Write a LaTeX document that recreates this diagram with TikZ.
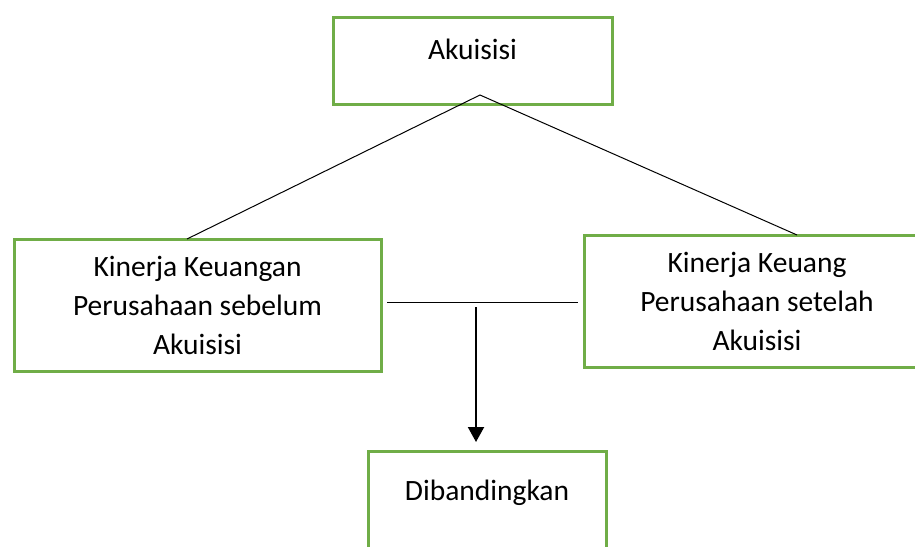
\documentclass[tikz,border=0pt]{standalone}
\usepackage{fontspec}
\setmainfont{Carlito}
\usetikzlibrary{arrows.meta}
\tikzset{
    kotak/.style={draw=hijau,line width=3pt,rectangle,inner sep=0pt,align=center,font=\fontsize{29.5}{39}\selectfont},
    judul/.style={font=\fontsize{29.5}{36}\selectfont,anchor=north},
    garis/.style={line width=1pt}
}
\definecolor{hijau}{HTML}{70AD47}
\begin{document}
\begin{tikzpicture}[x=1pt,y=-1pt]
    \clip (0,0) rectangle (915,546);
    \node[kotak,minimum width=279pt,minimum height=87pt,
        label={[judul,yshift=-20pt]north:Akuisisi}] (akuisisi) at (472.5,60.5) {};
    \node[kotak,minimum width=367pt,minimum height=132pt] (sebelum) at (197.5,305) {Kinerja Keuangan\\Perusahaan sebelum\\Akuisisi};
    \node[kotak,minimum width=346pt,minimum height=132pt] (setelah) at (757,301) {Kinerja Keuang\\Perusahaan setelah\\Akuisisi};
    \node[kotak,minimum width=238pt,minimum height=130pt,
        label={[judul,yshift=-27pt]north:Dibandingkan}] (banding) at (487,516) {};
    \coordinate (puncak) at (480,95);
    \coordinate (kaki kiri) at (187,239);
    \coordinate (kaki kanan) at (797,235);
    \coordinate (hubung kiri) at (387,302);
    \coordinate (hubung kanan) at (578,302);
    \coordinate (pangkal) at (476,307);
    \coordinate (ujung) at (476,442);
    \draw[garis] (kaki kiri) -- (puncak) -- (kaki kanan);
    \draw[garis] (hubung kiri) -- (hubung kanan);
    \draw[line width=2pt,-{Triangle[width=16pt,length=15pt]}] (pangkal) -- (ujung);
\end{tikzpicture}
\end{document}
